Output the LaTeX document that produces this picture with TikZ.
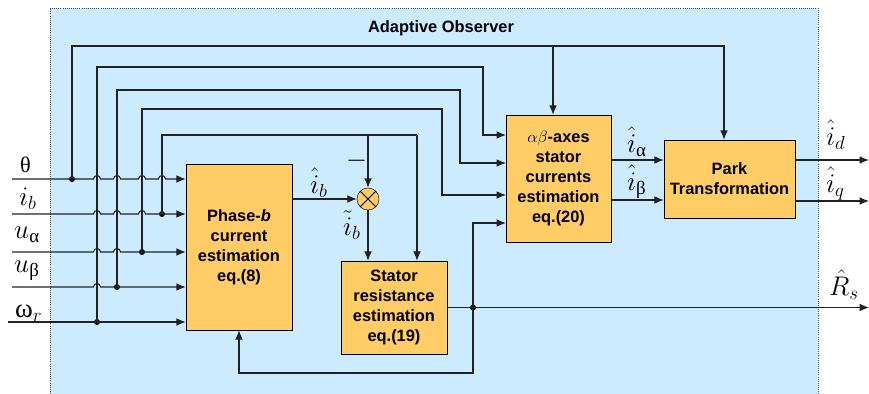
\RequirePackage{fix-cm}
\documentclass[tikz,border=0pt]{standalone}
\usepackage{amsmath}
\usepackage{fontspec}
\setmainfont{Liberation Sans}
\newfontfamily\symfont{Liberation Serif}
\usetikzlibrary{arrows.meta}
\definecolor{obsbg}{HTML}{CCEBFF}
\definecolor{blkfill}{HTML}{FFCC66}
\definecolor{wiregray}{HTML}{222222}
\newcommand{\gk}[1]{\text{\normalfont\symfont #1}}

\begin{document}
\begin{tikzpicture}[
  x=0.03cm, y=-0.03cm,
  every node/.style={font=\fontsize{14}{17}\selectfont\bfseries, align=center},
  blk/.style={draw=black, fill=blkfill, inner sep=0pt},
  wire/.style={draw=wiregray, line width=0.9pt},
  arr/.style={wire, -{Latex[length=2.8mm, width=2.3mm]}},
  dot/.style={circle, fill=black, inner sep=0pt, minimum size=1.8mm},
  sig/.style={font=\normalfont\fontsize{23}{23}\selectfont, inner sep=0pt, anchor=base west}
]
\useasboundingbox (0,0) rectangle (869,394);
% observer panel
\fill[obsbg] (50,8) rectangle (818,394);
\draw[black!70, densely dotted, line width=0.8pt] (50,394) -- (50,8) -- (818,8) -- (818,394);
\node (title) at (441,28) {Adaptive Observer};

% blocks
\node[blk, minimum width=3.18cm, minimum height=4.98cm] (phaseb) at (239,247)
  {Phase-\textit{b}\\current\\estimation\\eq.(8)};
\node[blk, minimum width=3.18cm, minimum height=2.79cm] (stator) at (394,307.5)
  {Stator\\resistance\\estimation\\eq.(19)};
\node[blk, minimum width=3.15cm, minimum height=3.81cm] (abcur) at (558.5,178.5)
  {$\alpha\beta$-axes\\stator\\currents\\estimation\\eq.(20)};
\node[blk, minimum width=3.93cm, minimum height=2.34cm] (park) at (729.5,179)
  {Park\\Transformation};
\node[circle, draw=black, fill=blkfill, minimum size=0.66cm, inner sep=0pt] (sum) at (368,199) {};
\draw[line width=0.8pt] (sum.north east) -- (sum.south west) (sum.north west) -- (sum.south east);

% input ends and junctions
\coordinate (th0) at (12,179);
\coordinate (ib0) at (12,214);
\coordinate (ua0) at (12,252);
\coordinate (ub0) at (12,287);
\coordinate (wr0) at (8,322);
\node[dot] (jth) at (72,179) {};
\node[dot] (jib) at (162,214) {};
\node[dot] (jua) at (142,252) {};
\node[dot] (jub) at (117,287) {};
\node[dot] (jwr) at (97,322) {};
\node[dot] (jrs) at (473,307.5) {};

% corner points
\coordinate (thc) at (724,46);
\coordinate (thb) at (553,46);
\coordinate (wrc) at (483,67);
\coordinate (ubc) at (460,90);
\coordinate (uac) at (442,109);
\coordinate (ibc) at (417,135);
\coordinate (ibs) at (368,135);
\coordinate (fbc) at (473,373);
\coordinate (abin1) at (506,135);
\coordinate (abin2) at (506,163);
\coordinate (abin3) at (506,195);
\coordinate (abin4) at (506,223);
\coordinate (iaa) at (611,160);
\coordinate (ibb) at (611,200);
\coordinate (idd) at (795,160);
\coordinate (iqq) at (795,201);
\coordinate (idout) at (869,160);
\coordinate (iqout) at (869,201);
\coordinate (rsout) at (869,307.5);

% inputs into the phase-b block, hopping over the feed lines
\draw[arr] (th0) \foreach \hx in {97,117,142,162} {
  -- (\hx-3.5,179) arc[start angle=180, end angle=0, radius=0.105cm]} -- (phaseb.west |- th0);
\draw[arr] (ib0) \foreach \hx in {97,117,142} {
  -- (\hx-3.5,214) arc[start angle=180, end angle=0, radius=0.105cm]} -- (phaseb.west |- ib0);
\draw[arr] (ua0) \foreach \hx in {97,117} {
  -- (\hx-3.5,252) arc[start angle=180, end angle=0, radius=0.105cm]} -- (phaseb.west |- ua0);
\draw[arr] (ub0) -- (93.5,287) arc[start angle=180, end angle=0, radius=0.105cm] -- (phaseb.west |- ub0);
\draw[arr] (wr0) -- (phaseb.west |- wr0);

% feed lines
\draw[arr] (jth.center) |- (thc) -- (thc |- park.north);
\draw[arr] (thb) -- (thb |- abcur.north);
\draw[arr] (jwr.center) |- (wrc) |- (abin1);
\draw[arr] (jub.center) |- (ubc) |- (abin2);
\draw[arr] (jua.center) |- (uac) |- (abin3);
\draw[wire] (jib.center) |- (ibc);
\draw[arr] (ibs) -- (sum.north);
\draw[arr] (ibc) -- (ibc |- stator.north);

% estimation paths
\draw[arr] (phaseb.east |- sum) -- (sum.west);
\draw[arr] (sum.south) -- (sum.south |- stator.north);
\draw[arr] (stator.east) -- (rsout);
\draw[arr] (jrs.center) |- (abin4);
\draw[arr] (jrs.center) -- (fbc) -| (phaseb.south);
\draw[arr] (iaa) -- (iaa -| park.west);
\draw[arr] (ibb) -- (ibb -| park.west);
\draw[arr] (idd) -- (idout);
\draw[arr] (iqq) -- (iqout);

% signal labels
\node[sig, font=\normalfont\fontsize{19}{19}\selectfont] (lth) at (20,172) {\symfont θ};
\node[sig] (lib) at (19,205) {$i_b$};
\node[sig] (lua) at (14,238) {$u_{\gk{α}}$};
\node[sig] (lub) at (14,272) {$u_{\gk{β}}$};
\node[sig] (lwr) at (15,317) {$\gk{ω}_r$};
\node[sig] (lihb) at (310,193) {$\hat{i}_b$};
\node[sig] (lminus) at (346,167) {$-$};
\node[sig] (litb) at (343,235) {$\tilde{i}_b$};
\node[sig] (lia) at (627,152) {$\hat{i}_{\gk{α}}$};
\node[sig] (lib2) at (627,190) {$\hat{i}_{\gk{β}}$};
\node[sig] (lid) at (826,145) {$\hat{i}_d$};
\node[sig] (liq) at (826,192) {$\hat{i}_q$};
\node[sig] (lrs) at (829,295) {$\hat{R}_s$};
\end{tikzpicture}
\end{document}
